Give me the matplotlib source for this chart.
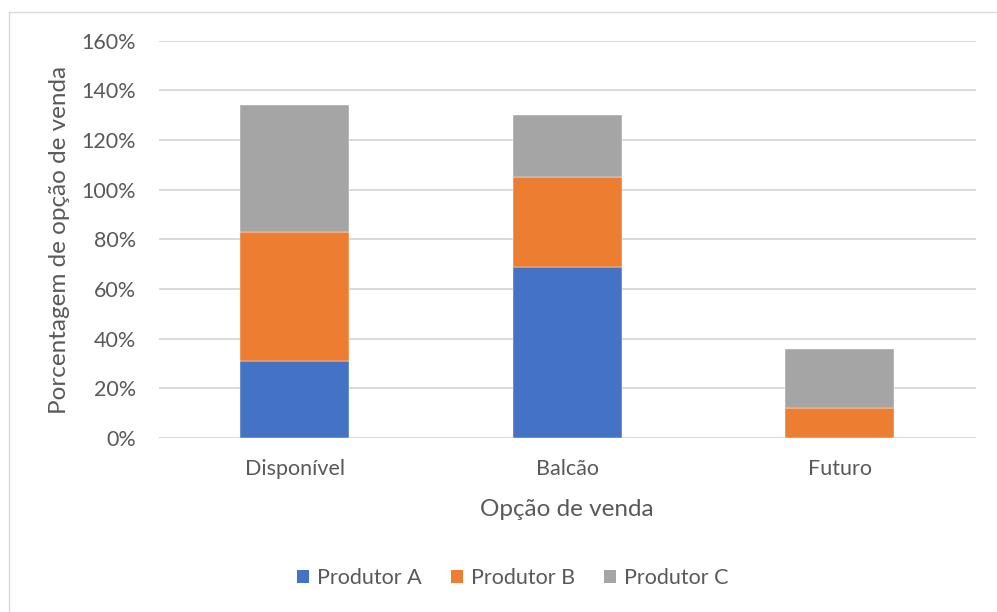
import matplotlib
matplotlib.use("Agg")
import matplotlib.pyplot as plt
from matplotlib.patches import Rectangle, Patch
from matplotlib.ticker import FuncFormatter, MultipleLocator

plt.rcParams['font.family'] = ['Lato', 'DejaVu Sans']

categories = ["Disponível", "Balcão", "Futuro"]
series_names = ["Produtor A", "Produtor B", "Produtor C"]
produtor_a = [31, 69, 0]
produtor_b = [52, 36, 12]
produtor_c = [51, 25, 24]
colors = ["#4472C4", "#ED7D31", "#A5A5A5"]

W, H = 997, 612
fig = plt.figure(figsize=(W / 100, H / 100), dpi=100)

# chart area border
fig.patches.append(Rectangle((8.5 / W, -0.1), 1.2, 1.1 - 11.5 / H,
                             transform=fig.transFigure, fill=False,
                             edgecolor="#d9d9d9", linewidth=1.0))

left, right = 158.5, 976
y0, y160 = 438, 40.7
ax = fig.add_axes([left / W, (H - y0) / H, (right - left) / W, (y0 - y160) / H])

x = list(range(len(categories)))
bottom = [0] * len(categories)
for vals, c, name in zip([produtor_a, produtor_b, produtor_c], colors, series_names):
    ax.bar(x, vals, width=0.4, bottom=bottom, color=c, label=name,
           edgecolor="white", linewidth=0.3, zorder=3)
    bottom = [b + v for b, v in zip(bottom, vals)]

ax.set_xlim(-0.5, 2.5)
ax.set_ylim(0, 160)
ax.yaxis.set_major_locator(MultipleLocator(20))
ax.yaxis.set_major_formatter(FuncFormatter(lambda v, p: f"{int(v)}%"))
ax.set_xticks(x)
ax.set_xticklabels(categories)
ax.grid(axis="y", color="#d9d9d9", linewidth=1.4, zorder=0)
ax.set_axisbelow(True)
for s in ax.spines.values():
    s.set_visible(False)
ax.tick_params(axis="both", length=0, colors="#595959", labelsize=15.5)
ax.tick_params(axis="y", pad=16)
ax.tick_params(axis="x", pad=15)

fig.text(567 / W, 1 - 509 / H, "Opção de venda", ha="center", va="center",
         fontsize=17.5, color="#595959")
fig.text(60 / W, 1 - 240 / H, "Porcentagem de opção de venda", ha="center",
         va="center", rotation=90, fontsize=17.5, color="#595959")

handles = [Patch(facecolor=c, edgecolor="none") for c in colors]
fig.legend(handles, series_names, loc="center", bbox_to_anchor=(513 / W, 1 - 578 / H),
           ncol=3, frameon=False, fontsize=15.5, labelcolor="#595959",
           handlelength=0.56, handleheight=0.56, handletextpad=0.37,
           columnspacing=1.35)

fig.savefig("out.png", dpi=100)
